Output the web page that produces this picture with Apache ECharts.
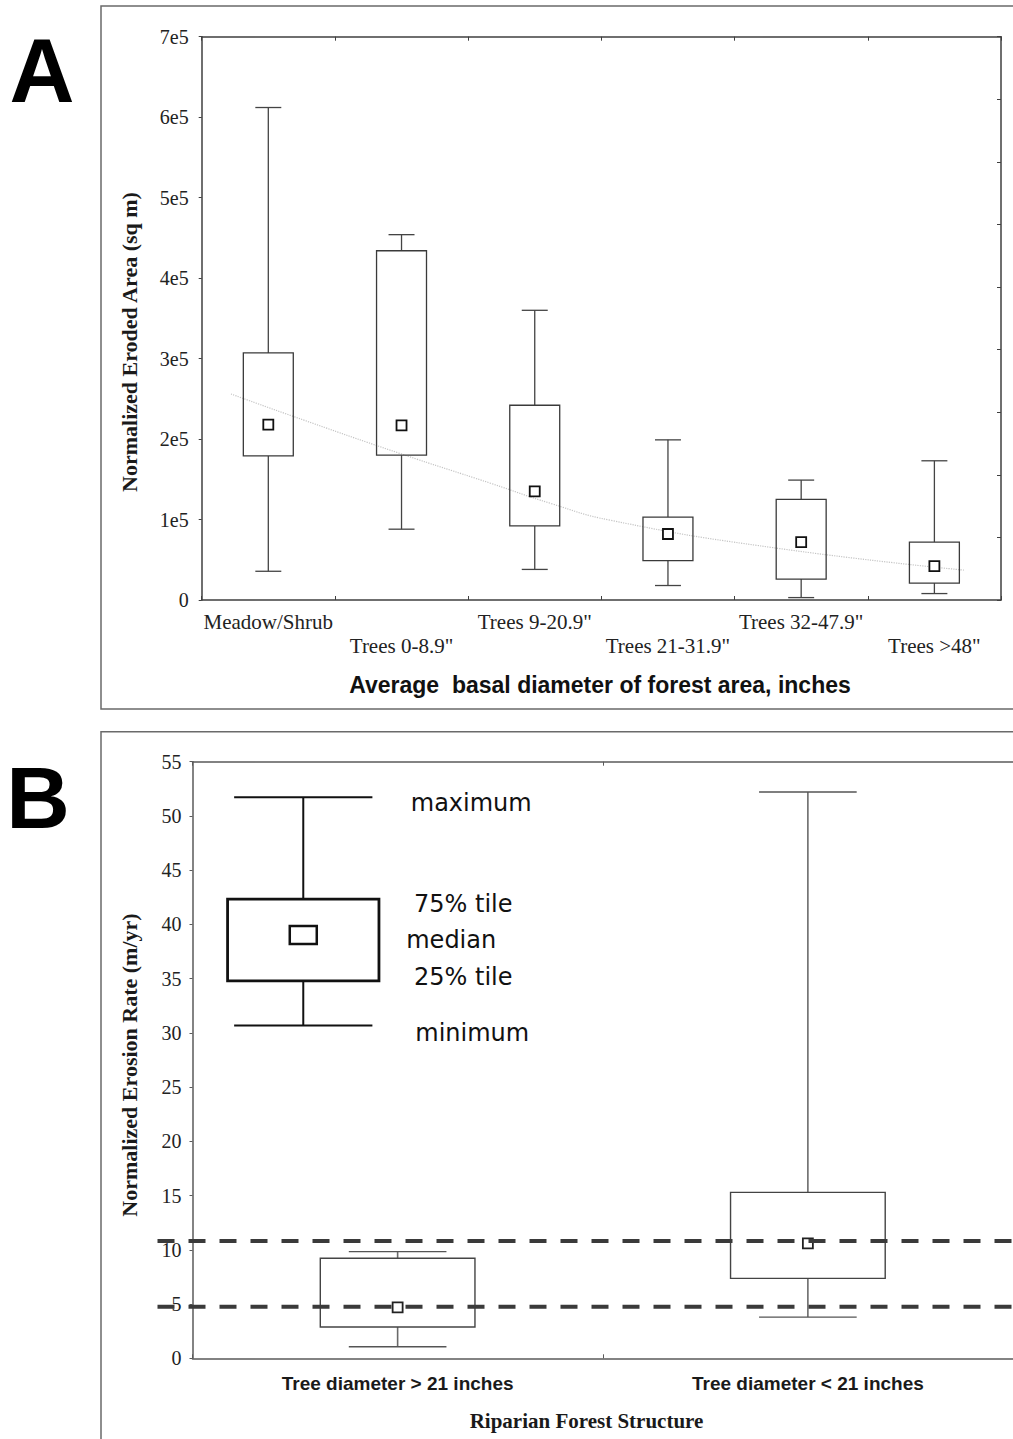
<!DOCTYPE html>
<html>
<head>
<meta charset="utf-8">
<script src="https://cdn.jsdelivr.net/npm/echarts@6/dist/echarts.min.js"></script>
<style>
  html, body { margin: 0; padding: 0; background: #fff; }
  #chart { width: 1013px; height: 1439px; }
</style>
</head>
<body>
<div id="chart"></div>
<script>
// ---------- Panel A data ----------
const catsA = ['Meadow/Shrub', 'Trees 0-8.9"', 'Trees 9-20.9"', 'Trees 21-31.9"', 'Trees 32-47.9"', 'Trees >48"'];
const minA = [35700, 88000, 38000, 18000, 3000, 8000];
const q1A  = [179000, 180000, 92000, 49000, 26000, 21000];
const medA = [218000, 217000, 135000, 82000, 72000, 42000];
const q3A  = [307000, 434000, 242000, 103000, 125000, 72000];
const maxA = [612000, 454000, 360000, 199000, 149000, 173000];
const yTicksA = ['0', '1e5', '2e5', '3e5', '4e5', '5e5', '6e5', '7e5'];
// faint trend curve (x in category units, y values)
const trendX = [-0.28, 0.19, 0.99, 1.67, 2.12, 2.57, 3.79, 5.23];
const trendY = [256000, 228000, 182000, 145000, 120000, 99000, 65000, 37000];

// ---------- Panel B data ----------
const catsB = ['Tree diameter > 21 inches', 'Tree diameter < 21 inches'];
const minB = [1.07, 3.8];
const q1B  = [2.88, 7.37];
const medB = [4.70, 10.6];
const q3B  = [9.22, 15.3];
const maxB = [9.83, 52.2];
const refLines = [10.81, 4.76];
// legend schematic box (x in category units)
const legendX = [-0.23];
const legendMin = [30.69], legendQ1 = [34.8], legendMed = [39.03], legendQ3 = [42.33], legendMax = [51.73];
const legendLabels = ['maximum', '75% tile', 'median', '25% tile', 'minimum'];
const legendLabelX = [0.032, 0.040, 0.021, 0.040, 0.043];
const legendLabelY = [51.18, 41.87, 38.56, 35.12, 29.95];

const SERIF = 'Liberation Serif, Times New Roman, serif';
const SANS = 'Liberation Sans, Arial, sans-serif';

function boxRenderer(opts) {
  return function (params, api) {
    const xv = api.value(0);
    const cx = api.coord([xv, 0])[0];
    const yMin = api.coord([xv, api.value(1)])[1];
    const yQ1 = api.coord([xv, api.value(2)])[1];
    const yMed = api.coord([xv, api.value(3)])[1];
    const yQ3 = api.coord([xv, api.value(4)])[1];
    const yMax = api.coord([xv, api.value(5)])[1];
    const band = api.size([1, 0])[0];
    const bw = band * opts.boxFrac, cw = band * opts.capFrac;
    const stem = { stroke: opts.stemColor, lineWidth: opts.stemWidth };
    const cap = { stroke: opts.capColor, lineWidth: opts.capWidth };
    return {
      type: 'group',
      children: [
        { type: 'line', shape: { x1: cx, y1: yQ3, x2: cx, y2: yMax }, style: stem },
        { type: 'line', shape: { x1: cx, y1: yQ1, x2: cx, y2: yMin }, style: stem },
        { type: 'line', shape: { x1: cx - cw / 2, y1: yMax, x2: cx + cw / 2, y2: yMax }, style: cap },
        { type: 'line', shape: { x1: cx - cw / 2, y1: yMin, x2: cx + cw / 2, y2: yMin }, style: cap },
        { type: 'rect', shape: { x: cx - bw / 2, y: yQ3, width: bw, height: yQ1 - yQ3 },
          style: { fill: 'none', stroke: opts.boxColor, lineWidth: opts.boxWidth } },
        { type: 'rect', shape: { x: cx - opts.mw / 2, y: yMed - opts.mh / 2, width: opts.mw, height: opts.mh },
          style: { fill: '#fff', stroke: opts.markColor, lineWidth: opts.markWidth } }
      ]
    };
  };
}

const boxDataA = catsA.map((c, i) => [i, minA[i], q1A[i], medA[i], q3A[i], maxA[i]]);
const boxDataB = catsB.map((c, i) => [i, minB[i], q1B[i], medB[i], q3B[i], maxB[i]]);
const legendData = legendX.map((x, i) => [x, legendMin[i], legendQ1[i], legendMed[i], legendQ3[i], legendMax[i]]);
const labelData = legendLabels.map((t, i) => [legendLabelX[i], legendLabelY[i], i]);
const trendData = trendX.map((x, i) => [x, trendY[i]]);
const refData = refLines.map(v => [0, v]);

const chart = echarts.init(document.getElementById('chart'), null, { renderer: 'svg' });

const axisLineA = { show: true, onZero: false, lineStyle: { color: '#3f3f3f', width: 1.5 } };
const axisLineB = { show: true, onZero: false, lineStyle: { color: '#5a5a5a', width: 1.5 } };

chart.setOption({
  backgroundColor: '#fff',
  animation: false,
  grid: [
    { left: 201.7, top: 36.7, width: 799.3, height: 563.3 },
    { left: 192.5, top: 761.7, width: 824.2, height: 596.6 }
  ],
  xAxis: [
    { type: 'category', gridIndex: 0, data: catsA, boundaryGap: true,
      axisLine: axisLineA,
      axisTick: { show: true, inside: true, length: 4, lineStyle: { color: '#3f3f3f' } },
      axisLabel: { interval: 0, formatter: (v, i) => (i % 2 ? '\n' + v : v),
        fontFamily: SERIF, fontSize: 21, color: '#222', lineHeight: 24, margin: 10 },
      splitLine: { show: false } },
    { type: 'category', gridIndex: 0, data: catsA, position: 'top', boundaryGap: true,
      axisLine: axisLineA,
      axisTick: { show: true, inside: true, length: 4, lineStyle: { color: '#3f3f3f' } },
      axisLabel: { show: false }, splitLine: { show: false } },
    { type: 'value', gridIndex: 0, min: -0.5, max: 5.5, show: false,
      axisLine: { show: false, onZero: false } },
    { type: 'category', gridIndex: 1, data: catsB, boundaryGap: true,
      axisLine: axisLineB,
      axisTick: { show: true, inside: true, length: 4, lineStyle: { color: '#5a5a5a' } },
      axisLabel: { interval: 0, fontFamily: SANS, fontWeight: 'bold', fontSize: 19, color: '#1a1a1a', margin: 16 },
      splitLine: { show: false } },
    { type: 'category', gridIndex: 1, data: catsB, position: 'top', boundaryGap: true,
      axisLine: axisLineB,
      axisTick: { show: true, inside: true, length: 4, lineStyle: { color: '#5a5a5a' } },
      axisLabel: { show: false }, splitLine: { show: false } },
    { type: 'value', gridIndex: 1, min: -0.5, max: 1.5, show: false,
      axisLine: { show: false, onZero: false } }
  ],
  yAxis: [
    { type: 'value', gridIndex: 0, min: 0, max: 700000, interval: 100000,
      axisLine: axisLineA,
      axisTick: { show: true, length: 3, lineStyle: { color: '#3f3f3f' } },
      axisLabel: { formatter: v => yTicksA[Math.round(v / 100000)], fontFamily: SERIF, fontSize: 20, color: '#222', margin: 13 },
      splitLine: { show: false } },
    { type: 'value', gridIndex: 0, position: 'right', min: 0, max: 9, interval: 1,
      axisLine: axisLineA,
      axisTick: { show: true, inside: true, length: 4, lineStyle: { color: '#3f3f3f' } },
      axisLabel: { show: false }, splitLine: { show: false } },
    { type: 'value', gridIndex: 1, min: 0, max: 55, interval: 5,
      axisLine: axisLineB,
      axisTick: { show: true, length: 3, lineStyle: { color: '#5a5a5a' } },
      axisLabel: { fontFamily: SERIF, fontSize: 20, color: '#222', margin: 11 },
      splitLine: { show: false } }
  ],
  series: [
    { type: 'line', xAxisIndex: 2, yAxisIndex: 0, data: trendData, smooth: 0.5, symbol: 'none',
      lineStyle: { color: '#c4c4c4', width: 1.2, type: 'dotted' }, z: 1 },
    { type: 'custom', xAxisIndex: 0, yAxisIndex: 0, data: boxDataA, z: 3,
      renderItem: boxRenderer({ boxFrac: 0.375, capFrac: 0.195, mw: 10, mh: 10,
        stemColor: '#444', stemWidth: 1.3, capColor: '#444', capWidth: 1.3,
        boxColor: '#3a3a3a', boxWidth: 1.3, markColor: '#111', markWidth: 1.8 }) },
    { type: 'custom', xAxisIndex: 3, yAxisIndex: 2, data: boxDataB, z: 3,
      renderItem: boxRenderer({ boxFrac: 0.377, capFrac: 0.238, mw: 10, mh: 10,
        stemColor: '#6a6a6a', stemWidth: 1.6, capColor: '#555', capWidth: 1.4,
        boxColor: '#444', boxWidth: 1.4, markColor: '#222', markWidth: 1.8 }) },
    { type: 'custom', xAxisIndex: 5, yAxisIndex: 2, data: legendData, z: 3,
      renderItem: boxRenderer({ boxFrac: 0.369, capFrac: 0.337, mw: 27, mh: 18,
        stemColor: '#111', stemWidth: 2, capColor: '#111', capWidth: 2,
        boxColor: '#111', boxWidth: 2.8, markColor: '#111', markWidth: 2.5 }) },
    { type: 'custom', xAxisIndex: 5, yAxisIndex: 2, data: labelData, z: 3,
      renderItem: function (params, api) {
        const p = api.coord([api.value(0), api.value(1)]);
        return { type: 'text', x: p[0], y: p[1],
          style: { text: legendLabels[api.value(2)], fill: '#111', fontSize: 24,
            fontFamily: 'DejaVu Sans, sans-serif', align: 'left', verticalAlign: 'middle' } };
      } },
    { type: 'custom', xAxisIndex: 3, yAxisIndex: 2, data: refData, z: 5, clip: false,
      renderItem: function (params, api) {
        const y = api.coord([0, api.value(1)])[1];
        const cs = params.coordSys;
        return { type: 'line', shape: { x1: cs.x - 35, y1: y, x2: cs.x + cs.width, y2: y },
          style: { stroke: '#3a3a3a', lineWidth: 4, lineDash: [17, 14] } };
      } }
  ],
  graphic: [
    { type: 'rect', shape: { x: 101, y: 6, width: 930, height: 703 },
      style: { fill: 'none', stroke: '#6a6a6a', lineWidth: 1.5 }, z: 0 },
    { type: 'rect', shape: { x: 101, y: 731.7, width: 930, height: 760 },
      style: { fill: 'none', stroke: '#6a6a6a', lineWidth: 1.5 }, z: 0 },
    { type: 'text', x: 42, y: 71, style: { text: 'A', fontSize: 90, fontWeight: 'bold', fontFamily: SANS,
      fill: '#000', align: 'center', verticalAlign: 'middle' } },
    { type: 'text', x: 38, y: 797, style: { text: 'B', fontSize: 88, fontWeight: 'bold', fontFamily: SANS,
      fill: '#000', align: 'center', verticalAlign: 'middle' } },
    { type: 'text', x: 129, y: 342, rotation: Math.PI / 2,
      style: { text: 'Normalized Eroded Area (sq m)', fontSize: 22, fontWeight: 'bold', fontFamily: SERIF,
        fill: '#1a1a1a', align: 'center', verticalAlign: 'middle' } },
    { type: 'text', x: 600, y: 685,
      style: { text: 'Average  basal diameter of forest area, inches', fontSize: 23, fontWeight: 'bold', fontFamily: SANS,
        fill: '#111', align: 'center', verticalAlign: 'middle' } },
    { type: 'text', x: 129, y: 1065, rotation: Math.PI / 2,
      style: { text: 'Normalized Erosion Rate (m/yr)', fontSize: 22, fontWeight: 'bold', fontFamily: SERIF,
        fill: '#1a1a1a', align: 'center', verticalAlign: 'middle' } },
    { type: 'text', x: 586.5, y: 1420.5,
      style: { text: 'Riparian Forest Structure', fontSize: 21, fontWeight: 'bold', fontFamily: SERIF,
        fill: '#1a1a1a', align: 'center', verticalAlign: 'middle' } }
  ]
});
</script>
</body>
</html>
